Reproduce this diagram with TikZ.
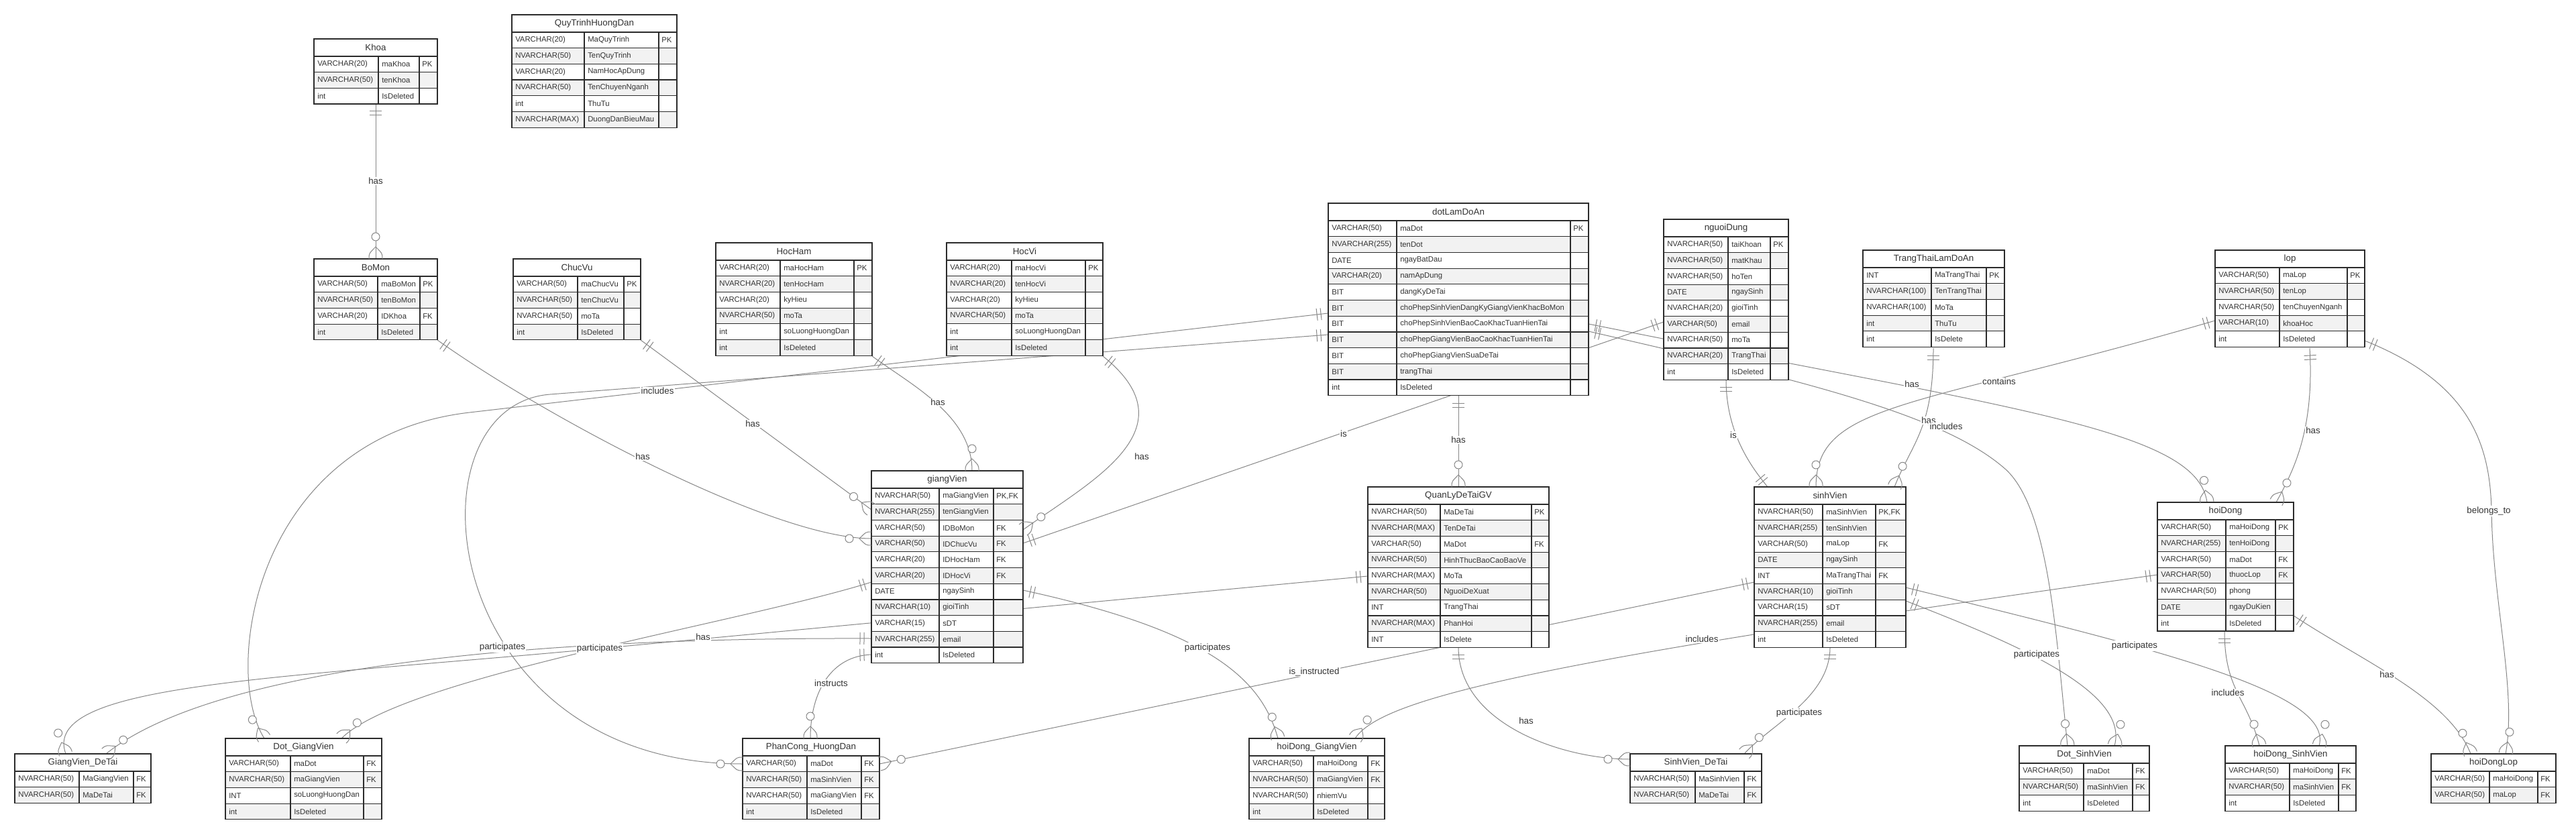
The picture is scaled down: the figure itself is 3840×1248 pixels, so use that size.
\documentclass[tikz,border=0pt]{standalone}
\usepackage{fontspec}
\setmainfont{Liberation Sans}
\usetikzlibrary{calc,fit,backgrounds}
\definecolor{rowgrey}{HTML}{F2F2F2}
\definecolor{tline}{HTML}{2B2B2B}
\definecolor{cline}{HTML}{878787}
\definecolor{txt}{HTML}{333333}
\tikzset{
 tbl/.style={draw=tline, line width=0.9pt},
 cell/.style={anchor=west, inner sep=0pt, text=txt, font=\fontsize{8.5}{10}\selectfont},
 ttl/.style={inner sep=0pt, text=txt, font=\fontsize{10}{12}\selectfont},
 conn/.style={draw=cline, line width=0.75pt},
 lbl/.style={fill=white, inner sep=1pt, text=txt, font=\fontsize{10}{12}\selectfont},
}
% #1 name #2 x0 #3 c1 #4 c2 #5 x1 #6 ytop #7 nrows #8 title #9 rows
\newcommand\ertable[9]{%
 \pgfmathsetmacro\tbot{#6+26+#7*23.7}%
 \pgfmathsetmacro\ttm{#6+13}%
 \pgfmathsetmacro\tty{#6+26}%
 \foreach \ta/\tb/\tc [count=\ri] in {#9} {
   \pgfmathsetmacro\ya{#6+26+(\ri-1)*23.7}
   \pgfmathsetmacro\yb{\ya+23.7}
   \pgfmathsetmacro\ym{\ya+11.85}
   \pgfmathtruncatemacro\rodd{mod(\ri,2)}
   \ifnum\rodd=0 \def\rf{rowgrey}\else\def\rf{white}\fi
   \filldraw[tbl,fill=\rf] (#2,\ya) rectangle (#5,\yb);
   \draw[tbl] (#3,\ya) -- (#3,\yb) (#4,\ya) -- (#4,\yb);
   \node[cell] (#1-\ri-t) at (#2+5,\ym) {\ta};
   \node[cell] (#1-\ri-n) at (#3+5,\ym) {\tb};
   \node[cell] (#1-\ri-k) at (#4+4,\ym) {\tc};
 }
 \filldraw[tbl,fill=white] (#2,#6) rectangle (#5,\tty);
 \node[ttl] (#1-title) at ({(#2+#5)/2},\ttm) {#8};
 \node[fit={(#2,#6) (#5,\tbot)}, inner sep=0pt, tbl] (#1) {};
}
\newcommand\mone[4]{%
 \pgfmathsetmacro\mkang{atan2(#2-#4,#3-#1)}%
 \begin{scope}[shift={(#1,#2)},rotate=\mkang]
 \draw[conn] (11,-9) -- (11,9) (17,-9) -- (17,9);
 \end{scope}}
\newcommand\zmany[4]{%
 \pgfmathsetmacro\mkang{atan2(#2-#4,#3-#1)}%
 \begin{scope}[shift={(#1,#2)},rotate=\mkang]
 \draw[conn] (0,10) .. controls (8,10) .. (18,0) .. controls (8,-10) .. (0,-10);
 \draw[conn,fill=white] (33,0) circle[radius=4.5pt];
 \end{scope}}
\begin{document}
\begin{tikzpicture}[x=0.75pt,y=-0.75pt]
\useasboundingbox (0,0) rectangle (3840,1248);

% ---------- tables ----------
\ertable{khoa}{468}{564}{625}{652}{58}{3}{Khoa}{VARCHAR(20)/maKhoa/PK, NVARCHAR(50)/tenKhoa/, int/IsDeleted/}
\ertable{quy}{763}{871}{982}{1009}{22}{6}{QuyTrinhHuongDan}{VARCHAR(20)/MaQuyTrinh/PK, NVARCHAR(50)/TenQuyTrinh/, VARCHAR(20)/NamHocApDung/, NVARCHAR(50)/TenChuyenNganh/, int/ThuTu/, NVARCHAR(MAX)/DuongDanBieuMau/}
\ertable{bomon}{468}{563}{626}{652}{386}{4}{BoMon}{VARCHAR(50)/maBoMon/PK, NVARCHAR(50)/tenBoMon/, VARCHAR(20)/IDKhoa/FK, int/IsDeleted/}
\ertable{chucvu}{765}{861}{930}{955}{386}{4}{ChucVu}{VARCHAR(50)/maChucVu/PK, NVARCHAR(50)/tenChucVu/, NVARCHAR(50)/moTa/, int/IsDeleted/}
\ertable{hocham}{1067}{1163}{1273}{1300}{362}{6}{HocHam}{VARCHAR(20)/maHocHam/PK, NVARCHAR(20)/tenHocHam/, VARCHAR(20)/kyHieu/, NVARCHAR(50)/moTa/, int/soLuongHuongDan/, int/IsDeleted/}
\ertable{hocvi}{1411}{1508}{1618}{1644}{362}{6}{HocVi}{VARCHAR(20)/maHocVi/PK, NVARCHAR(20)/tenHocVi/, VARCHAR(20)/kyHieu/, NVARCHAR(50)/moTa/, int/soLuongHuongDan/, int/IsDeleted/}
\ertable{dot}{1980}{2082}{2341}{2368}{303}{11}{dotLamDoAn}{VARCHAR(50)/maDot/PK, NVARCHAR(255)/tenDot/, DATE/ngayBatDau/, VARCHAR(20)/namApDung/, BIT/dangKyDeTai/, BIT/choPhepSinhVienDangKyGiangVienKhacBoMon/, BIT/choPhepSinhVienBaoCaoKhacTuanHienTai/, BIT/choPhepGiangVienBaoCaoKhacTuanHienTai/, BIT/choPhepGiangVienSuaDeTai/, BIT/trangThai/, int/IsDeleted/}
\ertable{nd}{2480}{2576}{2639}{2666}{327}{9}{nguoiDung}{NVARCHAR(50)/taiKhoan/PK, NVARCHAR(50)/matKhau/, NVARCHAR(50)/hoTen/, DATE/ngaySinh/, NVARCHAR(20)/gioiTinh/, VARCHAR(50)/email/, NVARCHAR(50)/moTa/, NVARCHAR(20)/TrangThai/, int/IsDeleted/}
\ertable{tt}{2777}{2879}{2961}{2988}{373}{5}{TrangThaiLamDoAn}{INT/MaTrangThai/PK, NVARCHAR(100)/TenTrangThai/, NVARCHAR(100)/MoTa/, int/ThuTu/, int/IsDelete/}
\ertable{lop}{3302}{3398}{3499}{3525}{373}{5}{lop}{VARCHAR(50)/maLop/PK, NVARCHAR(50)/tenLop/, NVARCHAR(50)/tenChuyenNganh/, VARCHAR(10)/khoaHoc/, int/IsDeleted/}
\ertable{gv}{1299}{1400}{1481}{1525}{702}{11}{giangVien}{NVARCHAR(50)/maGiangVien/{PK,FK}, NVARCHAR(255)/tenGiangVien/, VARCHAR(50)/IDBoMon/FK, VARCHAR(50)/IDChucVu/FK, VARCHAR(20)/IDHocHam/FK, VARCHAR(20)/IDHocVi/FK, DATE/ngaySinh/, NVARCHAR(10)/gioiTinh/, VARCHAR(15)/sDT/, NVARCHAR(255)/email/, int/IsDeleted/}
\ertable{ql}{2039}{2147}{2283}{2309}{726}{9}{QuanLyDeTaiGV}{NVARCHAR(50)/MaDeTai/PK, NVARCHAR(MAX)/TenDeTai/, VARCHAR(50)/MaDot/FK, NVARCHAR(50)/HinhThucBaoCaoBaoVe/, NVARCHAR(MAX)/MoTa/, NVARCHAR(50)/NguoiDeXuat/, INT/TrangThai/, NVARCHAR(MAX)/PhanHoi/, INT/IsDelete/}
\ertable{sv}{2615}{2717}{2796}{2841}{726}{9}{sinhVien}{NVARCHAR(50)/maSinhVien/{PK,FK}, NVARCHAR(255)/tenSinhVien/, VARCHAR(50)/maLop/FK, DATE/ngaySinh/, INT/MaTrangThai/FK, NVARCHAR(10)/gioiTinh/, VARCHAR(15)/sDT/, NVARCHAR(255)/email/, int/IsDeleted/}
\ertable{hd}{3216}{3318}{3392}{3419}{749}{7}{hoiDong}{VARCHAR(50)/maHoiDong/PK, NVARCHAR(255)/tenHoiDong/, VARCHAR(50)/maDot/FK, VARCHAR(50)/thuocLop/FK, NVARCHAR(50)/phong/, DATE/ngayDuKien/, int/IsDeleted/}
\ertable{gvdt}{22}{118}{199}{225}{1124}{2}{GiangVien\_DeTai}{NVARCHAR(50)/MaGiangVien/FK, NVARCHAR(50)/MaDeTai/FK}
\ertable{dotgv}{336}{433}{542}{569}{1101}{4}{Dot\_GiangVien}{VARCHAR(50)/maDot/FK, NVARCHAR(50)/maGiangVien/FK, INT/soLuongHuongDan/, int/IsDeleted/}
\ertable{pc}{1107}{1203}{1284}{1311}{1101}{4}{PhanCong\_HuongDan}{VARCHAR(50)/maDot/FK, NVARCHAR(50)/maSinhVien/FK, NVARCHAR(50)/maGiangVien/FK, int/IsDeleted/}
\ertable{hdgv}{1862}{1958}{2039}{2064}{1101}{4}{hoiDong\_GiangVien}{VARCHAR(50)/maHoiDong/FK, NVARCHAR(50)/maGiangVien/FK, NVARCHAR(50)/nhiemVu/, int/IsDeleted/}
\ertable{svdt}{2430}{2527}{2600}{2626}{1124}{2}{SinhVien\_DeTai}{NVARCHAR(50)/MaSinhVien/FK, NVARCHAR(50)/MaDeTai/FK}
\ertable{dotsv}{3010}{3106}{3179}{3204}{1112}{3}{Dot\_SinhVien}{VARCHAR(50)/maDot/FK, NVARCHAR(50)/maSinhVien/FK, int/IsDeleted/}
\ertable{hdsv}{3317}{3413}{3486}{3512}{1112}{3}{hoiDong\_SinhVien}{VARCHAR(50)/maHoiDong/FK, NVARCHAR(50)/maSinhVien/FK, int/IsDeleted/}
\ertable{hdl}{3624}{3711}{3783}{3810}{1124}{2}{hoiDongLop}{VARCHAR(50)/maHoiDong/FK, VARCHAR(50)/maLop/FK}

% ---------- connector end points ----------
\coordinate (c1a) at (560,155);   \coordinate (c1b) at (560,386);
\coordinate (c2a) at (652,507);   \coordinate (c2b) at (1299,803);
\coordinate (c3a) at (955,507);   \coordinate (c3b) at (1299,760);
\coordinate (c4a) at (1300,531);  \coordinate (c4b) at (1449,702);
\coordinate (c5a) at (1644,531);  \coordinate (c5b) at (1525,790);
\coordinate (c6a) at (1980,467);  \coordinate (c6b) at (394,1101);
\coordinate (c7a) at (1980,499);  \coordinate (c7b) at (1107,1139);
\coordinate (c8a) at (2174,590);  \coordinate (c8b) at (2174,726);
\coordinate (c9a) at (2368,483);  \coordinate (c9b) at (3290,749);
\coordinate (c10a) at (2368,494); \coordinate (c10b) at (3082,1112);
\coordinate (c11a) at (1525,810); \coordinate (c11b) at (2480,480);
\coordinate (c12a) at (2573,566); \coordinate (c12b) at (2635,726);
\coordinate (c13a) at (3302,478); \coordinate (c13b) at (2707,726);
\coordinate (c14a) at (2882,519); \coordinate (c14b) at (2824,726);
\coordinate (c15a) at (3443,519); \coordinate (c15b) at (3393,749);
\coordinate (c16a) at (3525,508); \coordinate (c16b) at (3735,1124);
\coordinate (c17a) at (1299,868); \coordinate (c17b) at (509,1101);
\coordinate (c18a) at (1299,952); \coordinate (c18b) at (158,1124);
\coordinate (c19a) at (2039,859); \coordinate (c19b) at (98,1124);
\coordinate (c20a) at (1299,976); \coordinate (c20b) at (1208,1101);
\coordinate (c21a) at (1525,880); \coordinate (c21b) at (1905,1101);
\coordinate (c22a) at (2615,868); \coordinate (c22b) at (1311,1139);
\coordinate (c23a) at (2174,965); \coordinate (c23b) at (2430,1132);
\coordinate (c24a) at (2728,965); \coordinate (c24b) at (2600,1124);
\coordinate (c25a) at (2841,896); \coordinate (c25b) at (3152,1112);
\coordinate (c26a) at (2841,876); \coordinate (c26b) at (3457,1112);
\coordinate (c27a) at (3216,857); \coordinate (c27b) at (2020,1101);
\coordinate (c28a) at (3316,941); \coordinate (c28b) at (3368,1112);
\coordinate (c29a) at (3419,918); \coordinate (c29b) at (3683,1124);

% ---------- connectors (behind the tables) ----------
\begin{pgfonlayer}{background}
\fill[white] (0,0) rectangle (3840,1248);
\draw[conn] (c1a) -- (c1b);
\draw[conn] (c2a) .. controls (806,617) and (1150,803) .. (c2b);
\draw[conn] (c3a) -- (c3b);
\draw[conn] (c4a) .. controls (1360,575) and (1449,620) .. (c4b);
\draw[conn] (c5a) .. controls (1780,640) and (1625,718) .. (c5b);
\draw[conn] (c6a) -- (700,615) .. controls (380,652) and (330,1000) .. (c6b);
\draw[conn] (c7a) -- (820,588) .. controls (600,605) and (650,1139) .. (c7b);
\draw[conn] (c8a) -- (c8b);
\draw[conn] (c9a) .. controls (3000,610) and (3275,640) .. (c9b);
\draw[conn] (c10a) .. controls (2700,570) and (2900,620) .. (2990,700) .. controls (3055,760) and (3065,950) .. (c10b);
\draw[conn] (c11a) -- (c11b);
\draw[conn] (c12a) .. controls (2573,640) and (2605,690) .. (c12b);
\draw[conn] (c13a) .. controls (2850,610) and (2707,600) .. (c13b);
\draw[conn] (c14a) .. controls (2882,640) and (2850,660) .. (c14b);
\draw[conn] (c15a) .. controls (3450,640) and (3420,700) .. (c15b);
\draw[conn] (c16a) .. controls (3680,570) and (3712,660) .. (3714,762) .. controls (3716,900) and (3752,1030) .. (c16b);
\draw[conn] (c17a) .. controls (1100,930) and (600,1010) .. (c17b);
\draw[conn] (c18a) .. controls (700,950) and (300,1010) .. (c18b);
\draw[conn] (c19a) -- (894,967) .. controls (400,1013) and (60,1020) .. (c19b);
\draw[conn] (c20a) .. controls (1240,978) and (1208,1030) .. (c20b);
\draw[conn] (c21a) .. controls (1800,940) and (1880,1010) .. (c21b);
\draw[conn] (c22a) -- (c22b);
\draw[conn] (c23a) .. controls (2174,1080) and (2330,1132) .. (c23b);
\draw[conn] (c24a) .. controls (2728,1040) and (2640,1080) .. (c24b);
\draw[conn] (c25a) .. controls (3000,958) and (3175,1030) .. (c25b);
\draw[conn] (c26a) .. controls (3200,965) and (3480,1030) .. (c26b);
\draw[conn] (c27a) .. controls (2300,985) and (2060,1040) .. (c27b);
\draw[conn] (c28a) .. controls (3316,1030) and (3350,1040) .. (c28b);
\draw[conn] (c29a) .. controls (3520,985) and (3650,1040) .. (c29b);
\end{pgfonlayer}

% ---------- markers ----------
\mone{560}{155}{560}{386}   \zmany{560}{386}{560}{155}
\mone{652}{507}{806}{617}   \zmany{1299}{803}{1150}{803}
\mone{955}{507}{1299}{760}  \zmany{1299}{760}{955}{507}
\mone{1300}{531}{1360}{575} \zmany{1449}{702}{1449}{620}
\mone{1644}{531}{1780}{640} \zmany{1525}{790}{1625}{718}
\mone{1980}{467}{700}{615}  \zmany{394}{1101}{330}{1000}
\mone{1980}{499}{820}{588}  \zmany{1107}{1139}{650}{1139}
\mone{2174}{590}{2174}{726} \zmany{2174}{726}{2174}{590}
\mone{2368}{483}{3000}{610} \zmany{3290}{749}{3275}{640}
\mone{2368}{494}{2700}{570} \zmany{3082}{1112}{3065}{950}
\mone{1525}{810}{2480}{480} \mone{2480}{480}{1525}{810}
\mone{2573}{566}{2573}{640} \mone{2635}{726}{2605}{690}
\mone{3302}{478}{2850}{610} \zmany{2707}{726}{2707}{600}
\mone{2882}{519}{2882}{640} \zmany{2824}{726}{2850}{660}
\mone{3443}{519}{3450}{640} \zmany{3393}{749}{3420}{700}
\mone{3525}{508}{3680}{570} \zmany{3735}{1124}{3752}{1030}
\mone{1299}{868}{1100}{930} \zmany{509}{1101}{600}{1010}
\mone{1299}{952}{700}{950}  \zmany{158}{1124}{300}{1010}
\mone{2039}{859}{894}{967}  \zmany{98}{1124}{60}{1020}
\mone{1299}{976}{1240}{978} \zmany{1208}{1101}{1208}{1030}
\mone{1525}{880}{1800}{940} \zmany{1905}{1101}{1880}{1010}
\mone{2615}{868}{1311}{1139} \zmany{1311}{1139}{2615}{868}
\mone{2174}{965}{2174}{1080} \zmany{2430}{1132}{2330}{1132}
\mone{2728}{965}{2728}{1040} \zmany{2600}{1124}{2640}{1080}
\mone{2841}{896}{3000}{958} \zmany{3152}{1112}{3175}{1030}
\mone{2841}{876}{3200}{965} \zmany{3457}{1112}{3480}{1030}
\mone{3216}{857}{2300}{985} \zmany{2020}{1101}{2060}{1040}
\mone{3316}{941}{3316}{1030} \zmany{3368}{1112}{3350}{1040}
\mone{3419}{918}{3520}{985} \zmany{3683}{1124}{3650}{1040}

% ---------- labels ----------
\node[lbl] (l1) at (560,270) {has};
\node[lbl] (l6) at (980,583) {includes};
\node[lbl] (l3) at (1122,632) {has};
\node[lbl] (l4) at (1398,600) {has};
\node[lbl] (l2) at (958,681) {has};
\node[lbl] (l5) at (1702,681) {has};
\node[lbl] (l11) at (2003,647) {is};
\node[lbl] (l8) at (2174,656) {has};
\node[lbl] (l12) at (2584,649) {is};
\node[lbl] (l9) at (2850,573) {has};
\node[lbl] (l14) at (2875,627) {has};
\node[lbl] (l10) at (2901,636) {includes};
\node[lbl] (l13) at (2980,569) {contains};
\node[lbl] (l15) at (3448,642) {has};
\node[lbl] (l16) at (3710,762) {belongs\_to};
\node[lbl] (l17) at (1048,950) {has};
\node[lbl] (l18) at (749,965) {participates};
\node[lbl] (l19) at (894,967) {participates};
\node[lbl] (l21) at (1800,966) {participates};
\node[lbl] (l20) at (1239,1019) {instructs};
\node[lbl] (l22) at (1959,1002) {is\_instructed};
\node[lbl] (l27) at (2537,953) {includes};
\node[lbl] (l25) at (3036,976) {participates};
\node[lbl] (l26) at (3182,963) {participates};
\node[lbl] (l23) at (2275,1075) {has};
\node[lbl] (l24) at (2682,1063) {participates};
\node[lbl] (l28) at (3321,1033) {includes};
\node[lbl] (l29) at (3558,1006) {has};
\end{tikzpicture}
\end{document}
